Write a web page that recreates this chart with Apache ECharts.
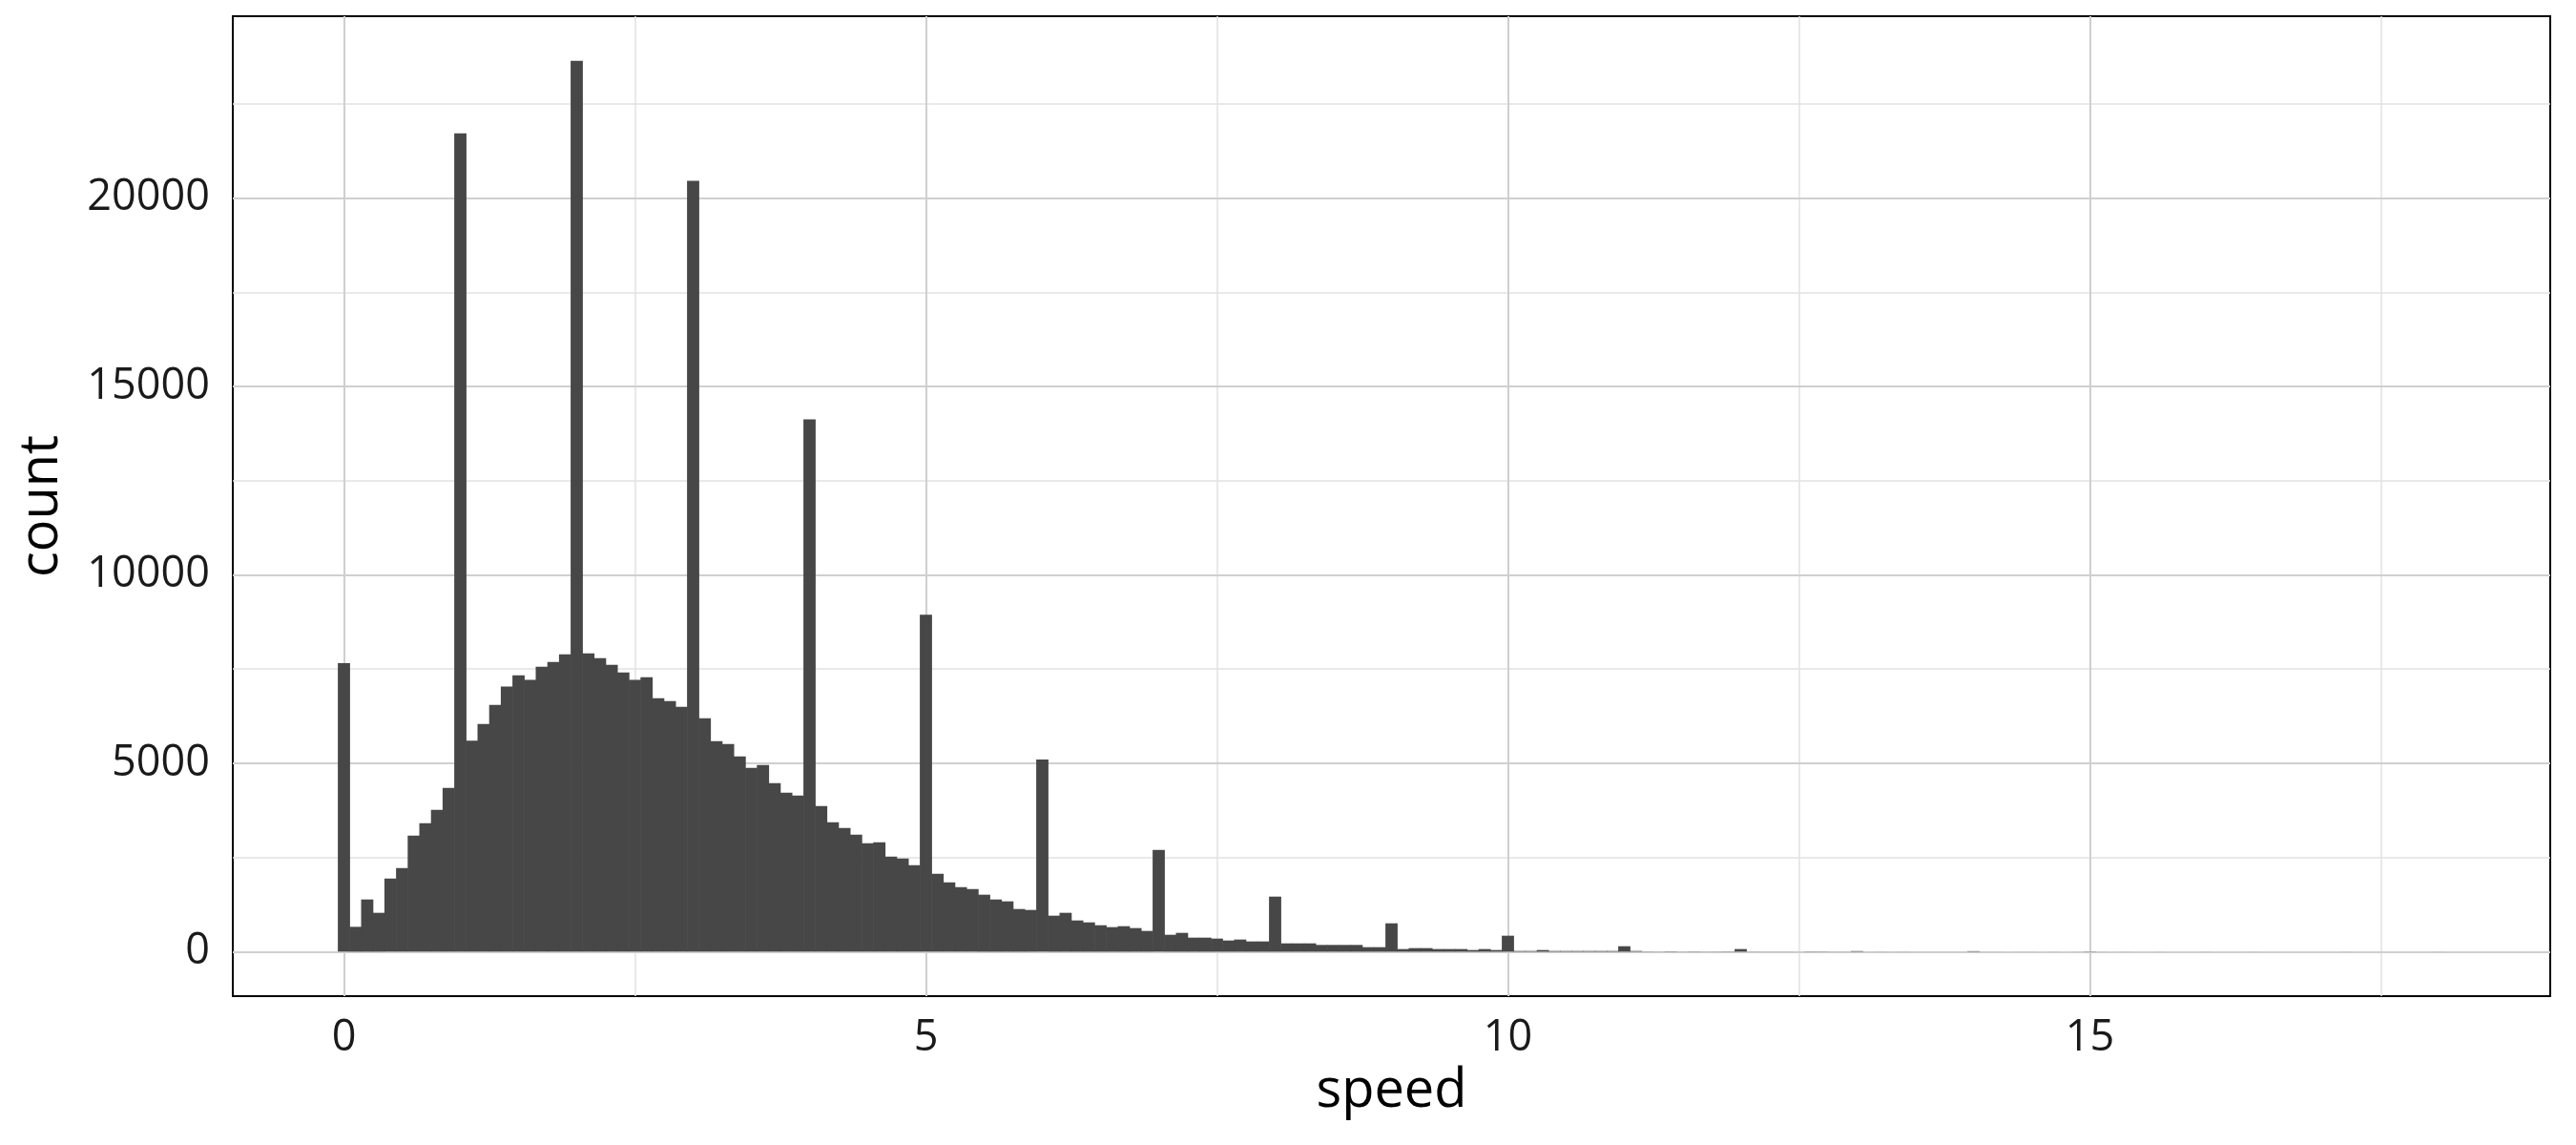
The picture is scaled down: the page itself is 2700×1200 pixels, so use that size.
<!DOCTYPE html>
<html>
<head>
<meta charset="utf-8">
<script src="https://cdn.jsdelivr.net/npm/echarts@6/dist/echarts.min.js"></script>
<style>
html,body{margin:0;padding:0;background:#fff;}
#chart{width:2700px;height:1200px;}
</style>
</head>
<body>
<div id="chart"></div>
<script>
// Histogram bin centres (speed), bin width 0.1
const binWidth = 0.1;
const speedBins = [
  0.0,0.1,0.2,0.3,0.4,0.5,0.6,0.7,0.8,0.9,
  1.0,1.1,1.2,1.3,1.4,1.5,1.6,1.7,1.8,1.9,
  2.0,2.1,2.2,2.3,2.4,2.5,2.6,2.7,2.8,2.9,
  3.0,3.1,3.2,3.3,3.4,3.5,3.6,3.7,3.8,3.9,
  4.0,4.1,4.2,4.3,4.4,4.5,4.6,4.7,4.8,4.9,
  5.0,5.1,5.2,5.3,5.4,5.5,5.6,5.7,5.8,5.9,
  6.0,6.1,6.2,6.3,6.4,6.5,6.6,6.7,6.8,6.9,
  7.0,7.1,7.2,7.3,7.4,7.5,7.6,7.7,7.8,7.9,
  8.0,8.1,8.2,8.3,8.4,8.5,8.6,8.7,8.8,8.9,
  9.0,9.1,9.2,9.3,9.4,9.5,9.6,9.7,9.8,9.9,
  10.0,10.1,10.2,10.3,10.4,10.5,10.6,10.7,10.8,10.9,
  11.0,11.1,11.2,11.3,11.4,11.5,11.6,11.7,11.8,11.9,
  12.0,12.1,12.2,12.3,12.4,12.5,12.6,12.7,12.8,12.9,
  13.0,13.1,13.2,13.3,13.4,13.5,13.6,13.7,13.8,13.9,
  14.0,14.1,14.2,14.3,14.4,14.5,14.6,14.7,14.8,14.9,
  15.0,15.1,15.2,15.3,15.4,15.5,15.6,15.7,15.8,15.9,
  16.0,16.1,16.2,16.3,16.4,16.5,16.6,16.7,16.8,16.9,
  17.0,17.1,17.2,17.3,17.4,17.5,17.6,17.7,17.8,17.9,
  18.0
];
const counts = [
  7655,658,1384,1030,1941,2220,3081,3410,3764,4347,
  21720,5596,6043,6549,7039,7334,7216,7562,7689,7891,
  23645,7917,7790,7613,7410,7216,7284,6727,6651,6499,
  20456,6195,5587,5511,5182,4878,4954,4473,4220,4144,
  14130,3866,3435,3283,3106,2878,2903,2524,2473,2296,
  8940,2068,1840,1713,1663,1511,1384,1334,1131,1106,
  5100,954,1030,827,776,700,650,675,625,549,
  2701,447,498,371,371,346,295,321,270,270,
  1460,219,219,219,177,177,177,177,118,118,
  751,68,93,93,68,68,68,42,68,42,
  422,17,17,42,17,17,17,17,17,17,
  143,17,5,3,8,3,6,3,4,6,
  68,3,2,2,2,1,6,5,2,2,
  14,1,2,1,2,1,1,1,1,1,
  12,1,1,0,1,1,0,1,0,1,
  6,1,0,1,0,0,1,0,0,0,
  1,0,0,0,1,0,0,0,0,0,
  0,0,1,0,0,0,0,0,0,0,
  1
];
const xMajorTicks = [0, 5, 10, 15];
const xMinorTicks = [2.5, 7.5, 12.5, 17.5];
const yMajorTicks = [0, 5000, 10000, 15000, 20000];
const yMinorTicks = [2500, 7500, 12500, 17500, 22500];
const xTitle = 'speed';
const yTitle = 'count';

const FONT = 'Open Sans';
const BAR = '#474747';
const histData = speedBins.map((s, i) => [s, counts[i]]);

const majorStyle = {color: '#CFCFCF', width: 2, type: 'solid'};
const minorStyle = {color: '#E2E2E2', width: 1.5, type: 'solid'};
const gridLines = []
  .concat(xMinorTicks.map(v => ({xAxis: v, lineStyle: minorStyle})))
  .concat(yMinorTicks.map(v => ({yAxis: v, lineStyle: minorStyle})))
  .concat(xMajorTicks.map(v => ({xAxis: v, lineStyle: majorStyle})))
  .concat(yMajorTicks.map(v => ({yAxis: v, lineStyle: majorStyle})));

const chart = echarts.init(document.getElementById('chart'), null, {renderer: 'canvas'});
chart.setOption({
  animation: false,
  backgroundColor: '#ffffff',
  grid: {
    left: 244, right: 27, top: 17, bottom: 156,
    show: true, borderColor: '#000000', borderWidth: 2, backgroundColor: 'transparent',
    containLabel: false
  },
  xAxis: {
    type: 'value',
    min: -0.955, max: 18.955,
    name: xTitle, nameLocation: 'middle', nameGap: 72,
    nameTextStyle: {fontFamily: FONT, fontSize: 56, color: '#000'},
    axisLine: {show: false},
    axisTick: {show: true, length: 12, customValues: xMajorTicks, lineStyle: {color: '#333', width: 2}},
    axisLabel: {show: true, customValues: xMajorTicks, margin: 22, fontFamily: FONT, fontSize: 45, color: '#1a1a1a',
      formatter: v => String(v)},
    splitLine: {show: false},
    minorSplitLine: {show: false}
  },
  yAxis: {
    type: 'value',
    min: -1182, max: 24827,
    name: yTitle, nameLocation: 'middle', nameGap: 172, nameRotate: 90,
    nameTextStyle: {fontFamily: FONT, fontSize: 56, color: '#000'},
    axisLine: {show: false},
    axisTick: {show: true, length: 12, customValues: yMajorTicks, lineStyle: {color: '#333', width: 2}},
    axisLabel: {show: true, customValues: yMajorTicks, margin: 24, fontFamily: FONT, fontSize: 45, color: '#1a1a1a',
      formatter: v => String(v)},
    splitLine: {show: false},
    minorSplitLine: {show: false}
  },
  series: [
    {
      type: 'line',
      data: [],
      z: 1,
      silent: true,
      markLine: {
        z: 1,
        silent: true,
        symbol: ['none', 'none'],
        label: {show: false},
        animation: false,
        data: gridLines
      }
    },
    {
      type: 'custom',
      z: 10,
      data: histData,
      encode: {x: 0, y: 1},
      renderItem: function (params, api) {
        const x = api.value(0);
        const y = api.value(1);
        if (!(y > 0)) return null;
        const p0 = api.coord([x - binWidth / 2, y]);
        const p1 = api.coord([x + binWidth / 2, 0]);
        return {
          type: 'rect',
          shape: {x: p0[0] - 0.3, y: p0[1], width: p1[0] - p0[0] + 0.6, height: p1[1] - p0[1]},
          style: {fill: BAR}
        };
      }
    }
  ]
});
</script>
</body>
</html>
